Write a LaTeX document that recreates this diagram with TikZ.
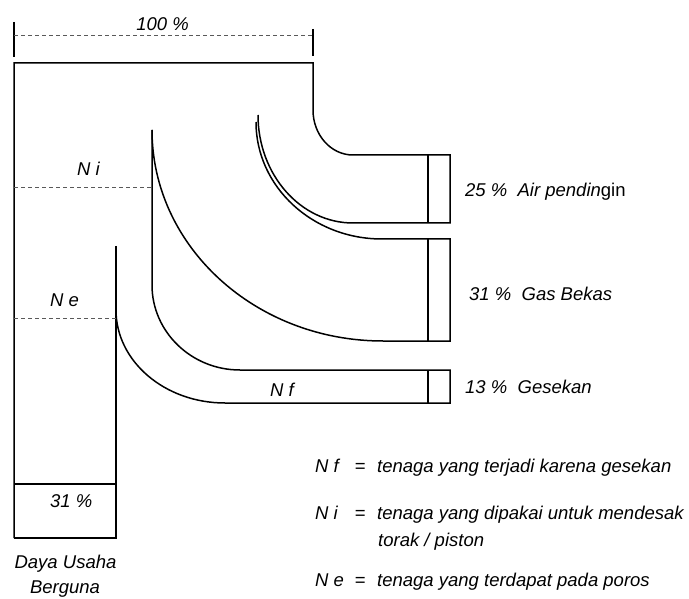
\documentclass[tikz,border=0pt]{standalone}
\usepackage{fontspec}
\setmainfont{Liberation Sans}
\begin{document}
\begin{tikzpicture}[x=1pt,y=-1pt,
  outline/.style={line width=1.5pt, line join=miter},
  dimline/.style={line width=1pt, gray!70!black, dash pattern=on 4pt off 3pt},
  lbl/.style={inner sep=0pt, font=\fontsize{18.5}{22}\selectfont\itshape}]
\useasboundingbox (0,0) rectangle (689,599);
% dimension line 100 %
\draw[line width=1.3pt] (14,22) -- (14,57);
\draw[line width=1.3pt] (313,29) -- (313,56);
\draw[dimline] (14,36) -- (313,36);
\node[lbl, anchor=base] (p100) at (162.5,31) {100 \%};
% main outline with top-right bend and cooling-water outlet
\draw[outline] (14,538) -- (14,63) -- (313,63) -- (313,110)
  .. controls (313,134.9) and (330.9,155) .. (353,155)
  -- (450,155) -- (450,223) -- (353,223)
  .. controls (300.5,223) and (258,174.6) .. (258,115);
\draw[outline] (428,155) -- (428,223);
% exhaust gas outlet
\draw[outline] (256,122) .. controls (256,186.7) and (312.4,239) .. (382,239)
  -- (450,239) -- (450,341) -- (383,341)
  .. controls (255.4,341) and (152,246.5) .. (152,130);
\draw[outline] (428,239) -- (428,341);
% friction outlet
\draw[outline] (152,130) -- (152,285)
  .. controls (152,331.9) and (191.4,370) .. (240,370)
  -- (450,370) -- (450,403) -- (225,403)
  .. controls (164.8,403) and (116,361.4) .. (116,310);
\draw[outline] (428,370) -- (428,403);
% useful power column
\draw[outline] (116,246) -- (116,538) -- (14,538);
\draw[outline] (14,484) -- (116,484);
% dashed level lines
\draw[dimline] (14,188) -- (152,188);
\draw[dimline] (14,318) -- (116,318);
% labels
\node[lbl, anchor=base west] (ni) at (77,176) {N i};
\node[lbl, anchor=base west] (ne) at (50,306) {N e};
\node[lbl, anchor=base west] (nf) at (270,396) {N f};
\node[lbl, anchor=base west] (p31) at (50,507) {31 \%};
\node[lbl, anchor=base] (daya) at (65.5,568) {Daya Usaha};
\node[lbl, anchor=base] (berguna) at (65,593) {Berguna};
\node[lbl, anchor=base west] (air) at (465,197) {25 \%\ \ Air pendin\upshape gin};
\node[lbl, anchor=base west] (gas) at (469,300) {31 \%\ \ Gas Bekas};
\node[lbl, anchor=base west] (ges) at (465,393) {13 \%\ \ Gesekan};
% legend
\node[lbl, anchor=base west] (lnf) at (315,472.5) {N f};
\node[lbl, anchor=base] (eq1) at (360,472.5) {=};
\node[lbl, anchor=base west] (tnf) at (377,472.5) {tenaga yang terjadi karena gesekan};
\node[lbl, anchor=base west] (lni) at (315,519) {N i};
\node[lbl, anchor=base] (eq2) at (360,519) {=};
\node[lbl, anchor=base west] (tni) at (377,519) {tenaga yang dipakai untuk mendesak};
\node[lbl, anchor=base west] (tni2) at (378,546) {torak / piston};
\node[lbl, anchor=base west] (lne) at (315,586) {N e};
\node[lbl, anchor=base] (eq3) at (360,586) {=};
\node[lbl, anchor=base west] (tne) at (377,586) {tenaga yang terdapat pada poros};
\end{tikzpicture}
\end{document}
